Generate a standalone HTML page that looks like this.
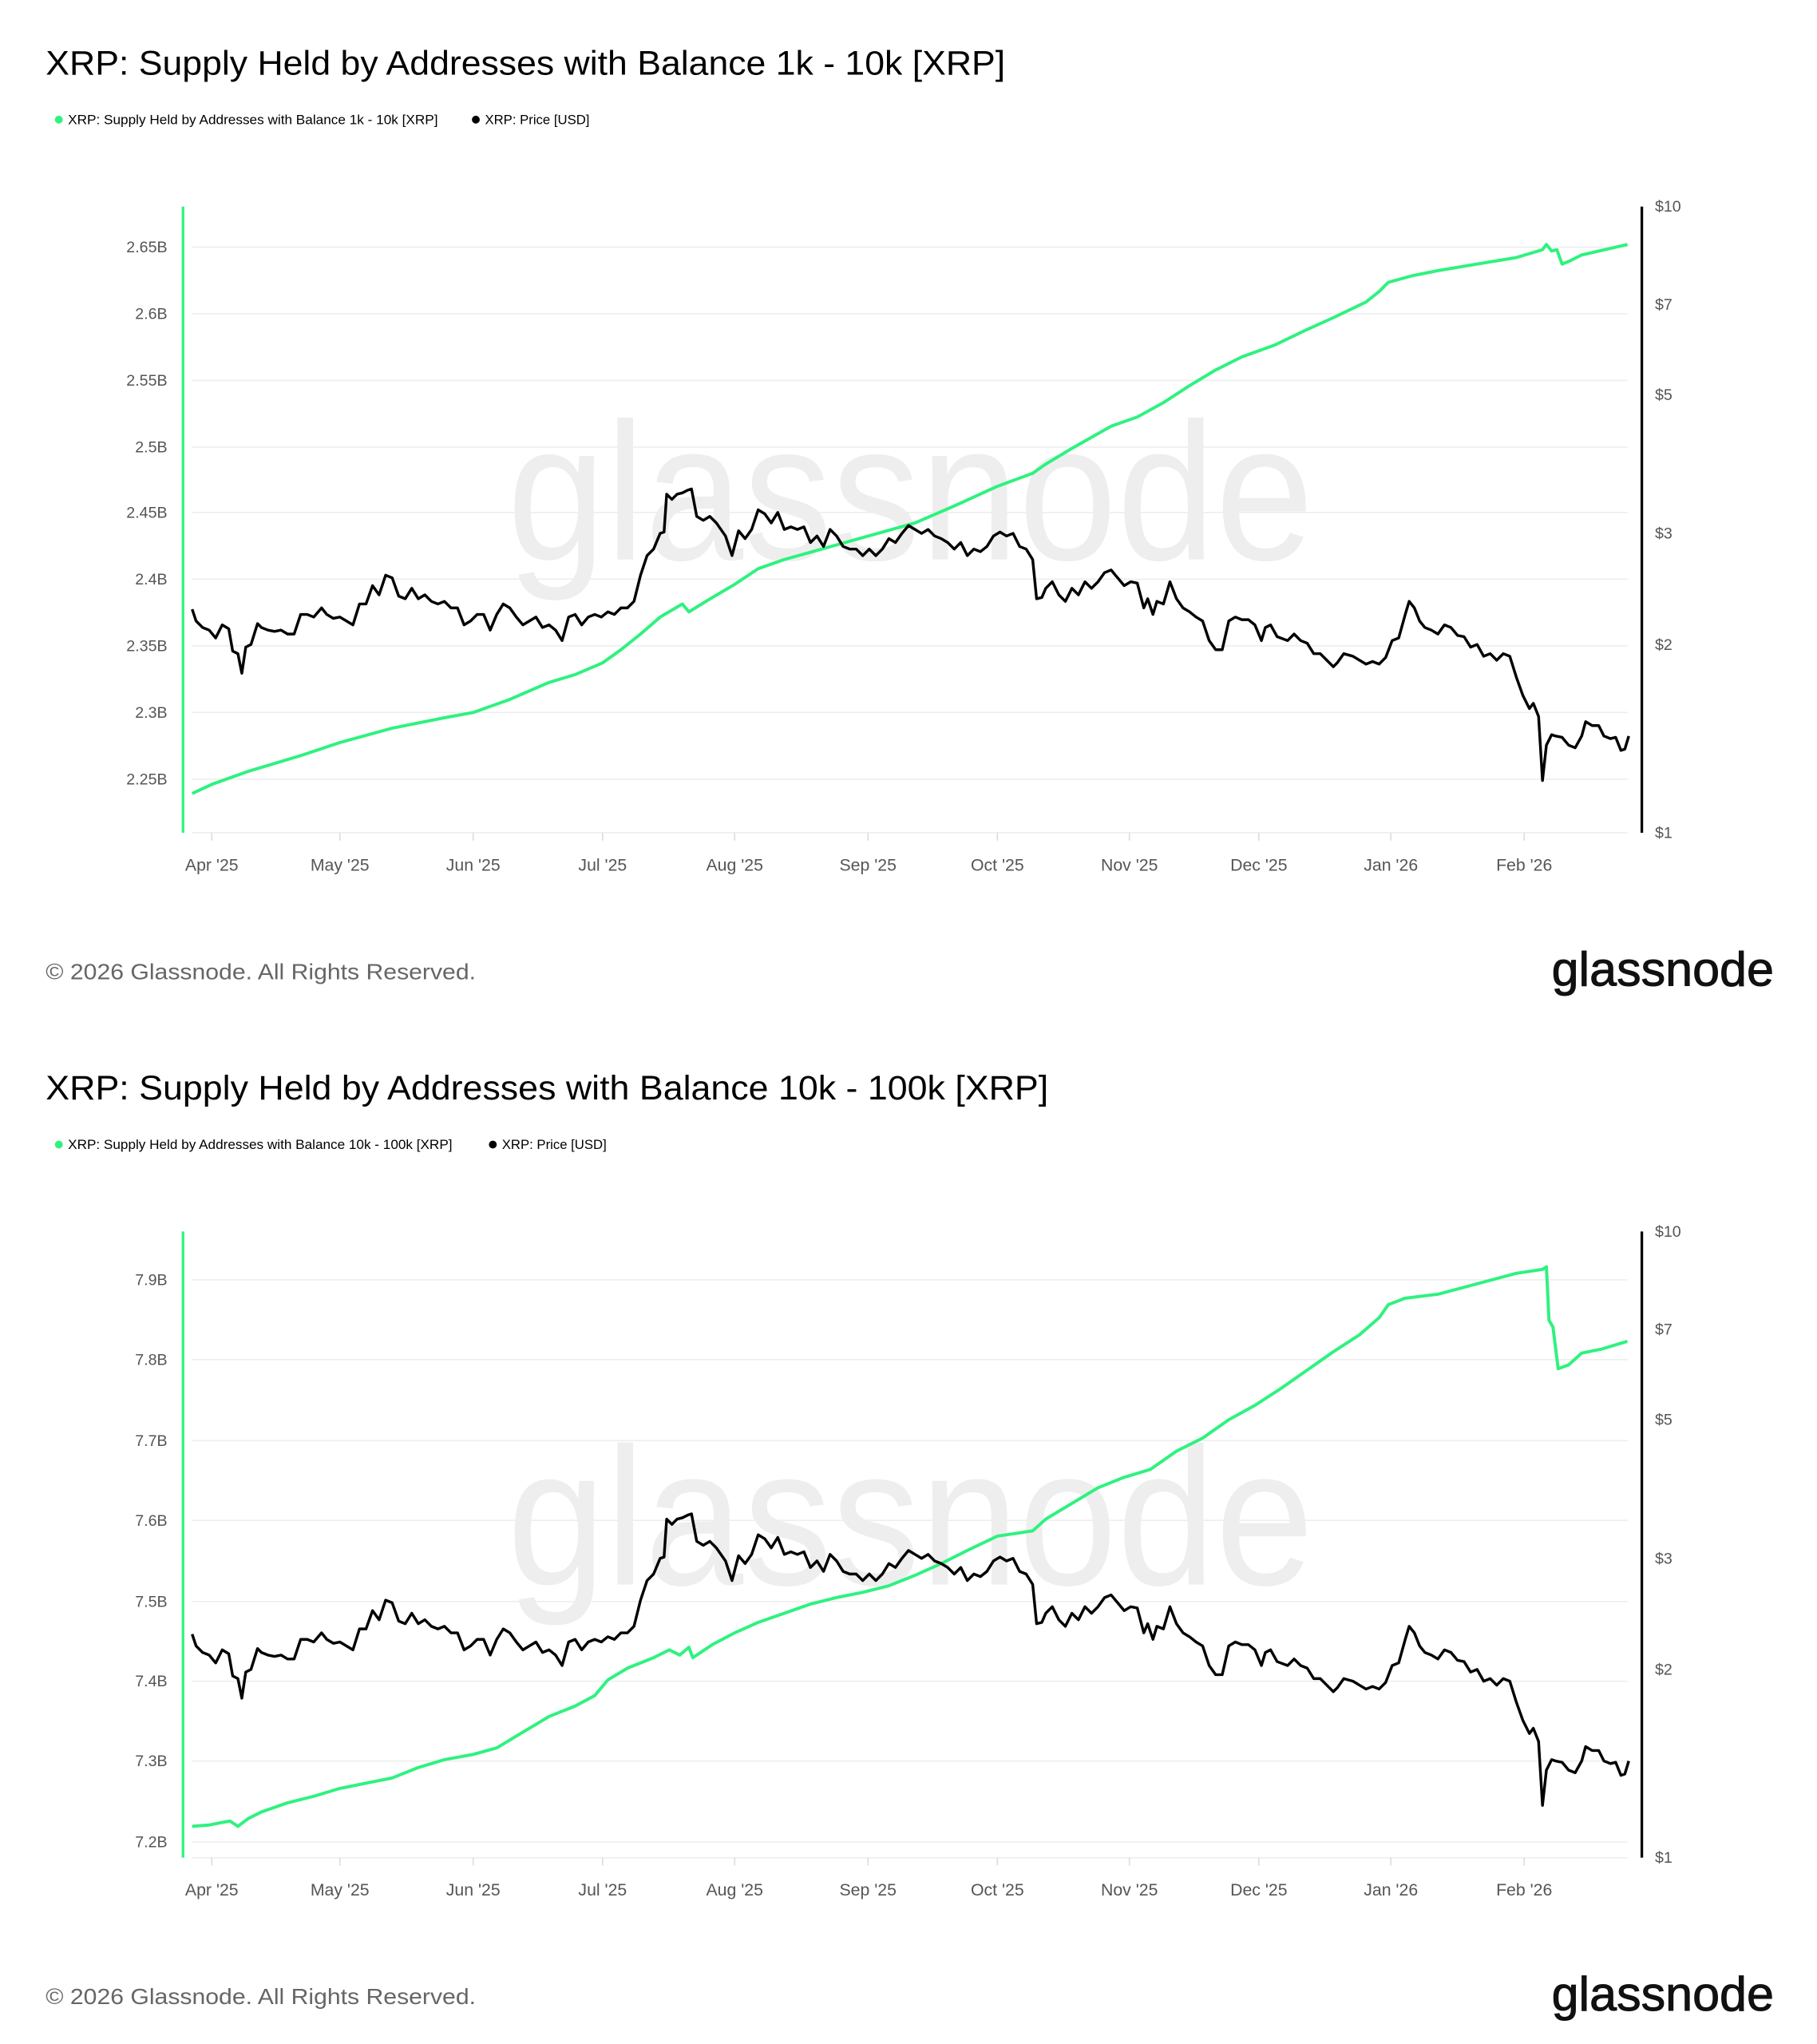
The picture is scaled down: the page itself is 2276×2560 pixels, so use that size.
<!DOCTYPE html>
<html><head><meta charset="utf-8"><style>
html,body{margin:0;padding:0;background:#fff;}
svg{display:block;}
text{font-family:"Liberation Sans",sans-serif;}
</style></head><body>
<svg width="2276" height="2560" viewBox="0 0 1390 1563.5" preserveAspectRatio="none" xmlns="http://www.w3.org/2000/svg">
<defs>
<polyline id="price" fill="none" stroke="#000" stroke-width="2.1" stroke-linejoin="round" points="147,466 150,475 155,480 160,482 165,488 170,478 175,481 178,498 182,500 185,515 188,495 192,493 197,477 200,480 205,482 210,483 215,482 220,485 225,485 230,470 235,470 240,472 246,465 250,470 255,473 260,472 265,475 270,478 275,462 280,462 285,448 290,455 295,440 300,442 305,456 310,458 315,450 320,458 325,455 330,460 335,462 340,460 345,465 350,465 355,478 360,475 365,470 370,470 375,482 380,470 385,462 390,465 395,472 400,478 405,475 410,472 415,480 420,478 425,482 430,490 435,472 440,470 445,478 450,472 455,470 460,472 465,468 470,470 475,465 480,465 485,460 490,440 495,425 500,420 505,408 508,407 510,378 514,382 518,378 522,377 526,375 529,374 533,395 538,398 543,395 548,400 555,410 560,425 565,406 570,412 575,405 580,390 585,393 590,400 595,392 600,405 605,403 610,405 615,403 620,415 625,410 630,418 635,405 640,410 645,418 650,420 655,420 660,425 665,420 670,425 675,420 680,412 685,415 690,408 695,402 700,405 705,408 710,405 715,410 720,412 725,415 730,420 735,415 740,425 745,420 750,422 755,418 760,410 765,407 770,410 775,408 780,418 785,420 790,428 793,458 797,457 800,450 805,445 810,455 815,460 820,450 825,455 830,445 835,450 840,445 845,438 850,436 855,442 860,448 865,445 870,446 875,465 878,458 882,470 885,460 890,462 895,445 900,458 905,465 910,468 915,472 920,475 925,490 930,497 935,497 940,475 945,472 950,474 955,474 960,478 965,490 968,480 972,478 977,487 985,490 990,485 995,490 1000,492 1005,500 1010,500 1015,505 1020,510 1023,507 1028,500 1035,502 1040,505 1045,508 1050,506 1055,508 1060,503 1065,490 1070,488 1075,470 1078,460 1082,465 1086,475 1090,480 1095,482 1100,485 1105,478 1110,480 1115,486 1120,487 1125,495 1130,493 1135,502 1140,500 1145,505 1150,500 1155,502 1160,518 1165,532 1170,542 1173,538 1177,548 1180,597 1183,570 1187,562 1190,563 1195,564 1200,570 1205,572 1210,563 1213,552 1218,555 1223,555 1227,563 1232,565 1236,564 1240,574 1243,573 1246,563"/>
<g id="frame">
<text x="388" y="428" font-size="150" fill="#eeeeee" textLength="617" lengthAdjust="spacingAndGlyphs">glassnode</text>
<g stroke="#eeeeee" stroke-width="1"><line x1="147" x2="1245" y1="637" y2="637"/></g>
<line x1="140" y1="158" x2="140" y2="637" stroke="#2ef27f" stroke-width="2"/>
<line x1="1256" y1="158" x2="1256" y2="637" stroke="#000" stroke-width="2"/>
<g font-size="12" fill="#555">
<text x="1266" y="162">$10</text><text x="1266" y="237">$7</text><text x="1266" y="306">$5</text><text x="1266" y="412">$3</text><text x="1266" y="497">$2</text><text x="1266" y="641">$1</text>
</g>
<g stroke="#ddd" stroke-width="1">
<line x1="162" y1="637" x2="162" y2="643"/><line x1="260" y1="637" x2="260" y2="643"/><line x1="362" y1="637" x2="362" y2="643"/><line x1="461" y1="637" x2="461" y2="643"/><line x1="562" y1="637" x2="562" y2="643"/><line x1="664" y1="637" x2="664" y2="643"/><line x1="763" y1="637" x2="763" y2="643"/><line x1="864" y1="637" x2="864" y2="643"/><line x1="963" y1="637" x2="963" y2="643"/><line x1="1064" y1="637" x2="1064" y2="643"/><line x1="1166" y1="637" x2="1166" y2="643"/>
</g>
<g font-size="13" fill="#555" text-anchor="middle">
<text x="162" y="666">Apr '25</text><text x="260" y="666">May '25</text><text x="362" y="666">Jun '25</text><text x="461" y="666">Jul '25</text><text x="562" y="666">Aug '25</text><text x="664" y="666">Sep '25</text><text x="763" y="666">Oct '25</text><text x="864" y="666">Nov '25</text><text x="963" y="666">Dec '25</text><text x="1064" y="666">Jan '26</text><text x="1166" y="666">Feb '26</text>
</g>
<text x="35" y="749" font-size="17" fill="#666" textLength="329" lengthAdjust="spacingAndGlyphs">© 2026 Glassnode. All Rights Reserved.</text>
<text x="1187" y="754" font-size="37" fill="#111" stroke="#111" stroke-width="0.6" textLength="170" lengthAdjust="spacingAndGlyphs">glassnode</text>
<circle cx="45" cy="91.5" r="3" fill="#2ef27f"/>
</g>
</defs>

<use href="#frame"/>
<text x="35" y="57" font-size="26" fill="#000" textLength="734" lengthAdjust="spacingAndGlyphs">XRP: Supply Held by Addresses with Balance 1k - 10k [XRP]</text>
<text x="52" y="95" font-size="10" fill="#000" textLength="283" lengthAdjust="spacingAndGlyphs">XRP: Supply Held by Addresses with Balance 1k - 10k [XRP]</text>
<circle cx="364" cy="91.5" r="3" fill="#000"/>
<text x="371" y="95" font-size="10" fill="#000" textLength="80" lengthAdjust="spacingAndGlyphs">XRP: Price [USD]</text>
<g stroke="#eeeeee" stroke-width="1">
<line x1="147" x2="1245" y1="189" y2="189"/><line x1="147" x2="1245" y1="240" y2="240"/><line x1="147" x2="1245" y1="291" y2="291"/><line x1="147" x2="1245" y1="342" y2="342"/><line x1="147" x2="1245" y1="392" y2="392"/><line x1="147" x2="1245" y1="443" y2="443"/><line x1="147" x2="1245" y1="494" y2="494"/><line x1="147" x2="1245" y1="545" y2="545"/><line x1="147" x2="1245" y1="596" y2="596"/>
</g>
<g font-size="12" fill="#555" text-anchor="end">
<text x="128" y="193">2.65B</text><text x="128" y="244">2.6B</text><text x="128" y="295">2.55B</text><text x="128" y="346">2.5B</text><text x="128" y="396">2.45B</text><text x="128" y="447">2.4B</text><text x="128" y="498">2.35B</text><text x="128" y="549">2.3B</text><text x="128" y="600">2.25B</text>
</g>
<polyline fill="none" stroke="#2ef27f" stroke-width="2.4" stroke-linejoin="round" points="147,607 162,600 190,590 230,578 260,568 300,557 340,549 362,545 390,535 420,522 440,516 461,507 475,497 490,485 505,472 522,462 527,468 545,457 562,447 580,435 600,428 650,414 700,400 730,387 763,372 790,362 800,355 820,343 850,326 870,319 890,308 910,295 930,283 950,273 975,264 1000,252 1020,243 1045,231 1055,223 1062,216 1080,211 1100,207 1130,202 1160,197 1180,191 1183,187 1187,192 1191,191 1195,202 1200,200 1210,195 1245,187"/>
<use href="#price"/>

<g transform="translate(0,784)"><use href="#frame"/></g>
<text x="35" y="841" font-size="26" fill="#000" textLength="767" lengthAdjust="spacingAndGlyphs">XRP: Supply Held by Addresses with Balance 10k - 100k [XRP]</text>
<text x="52" y="879" font-size="10" fill="#000" textLength="294" lengthAdjust="spacingAndGlyphs">XRP: Supply Held by Addresses with Balance 10k - 100k [XRP]</text>
<circle cx="377" cy="875.5" r="3" fill="#000"/>
<text x="384" y="879" font-size="10" fill="#000" textLength="80" lengthAdjust="spacingAndGlyphs">XRP: Price [USD]</text>
<g stroke="#eeeeee" stroke-width="1">
<line x1="147" x2="1245" y1="979" y2="979"/><line x1="147" x2="1245" y1="1040" y2="1040"/><line x1="147" x2="1245" y1="1102" y2="1102"/><line x1="147" x2="1245" y1="1163" y2="1163"/><line x1="147" x2="1245" y1="1225" y2="1225"/><line x1="147" x2="1245" y1="1286" y2="1286"/><line x1="147" x2="1245" y1="1347" y2="1347"/><line x1="147" x2="1245" y1="1409" y2="1409"/>
</g>
<g font-size="12" fill="#555" text-anchor="end">
<text x="128" y="983">7.9B</text><text x="128" y="1044">7.8B</text><text x="128" y="1106">7.7B</text><text x="128" y="1167">7.6B</text><text x="128" y="1229">7.5B</text><text x="128" y="1290">7.4B</text><text x="128" y="1351">7.3B</text><text x="128" y="1413">7.2B</text>
</g>
<polyline fill="none" stroke="#2ef27f" stroke-width="2.4" stroke-linejoin="round" points="147,1397 160,1396 170,1394 176,1393 182,1397 190,1391 200,1386 220,1379 240,1374 260,1368 280,1364 300,1360 320,1352 340,1346 362,1342 380,1337 400,1325 420,1313 440,1305 455,1297 465,1285 480,1276 500,1268 512,1262 520,1266 527,1260 530,1268 545,1258 562,1249 580,1241 600,1234 620,1227 640,1222 660,1218 680,1213 700,1205 720,1196 740,1186 763,1175 790,1171 800,1162 820,1150 840,1138 860,1130 880,1124 900,1110 920,1100 940,1086 960,1075 980,1062 1000,1048 1020,1034 1040,1021 1055,1008 1062,998 1075,993 1100,990 1130,982 1160,974 1180,971 1183,969 1185,1010 1188,1015 1192,1047 1200,1044 1210,1035 1225,1032 1245,1026"/>
<g transform="translate(0,784)"><use href="#price"/></g>
</svg>
</body></html>
